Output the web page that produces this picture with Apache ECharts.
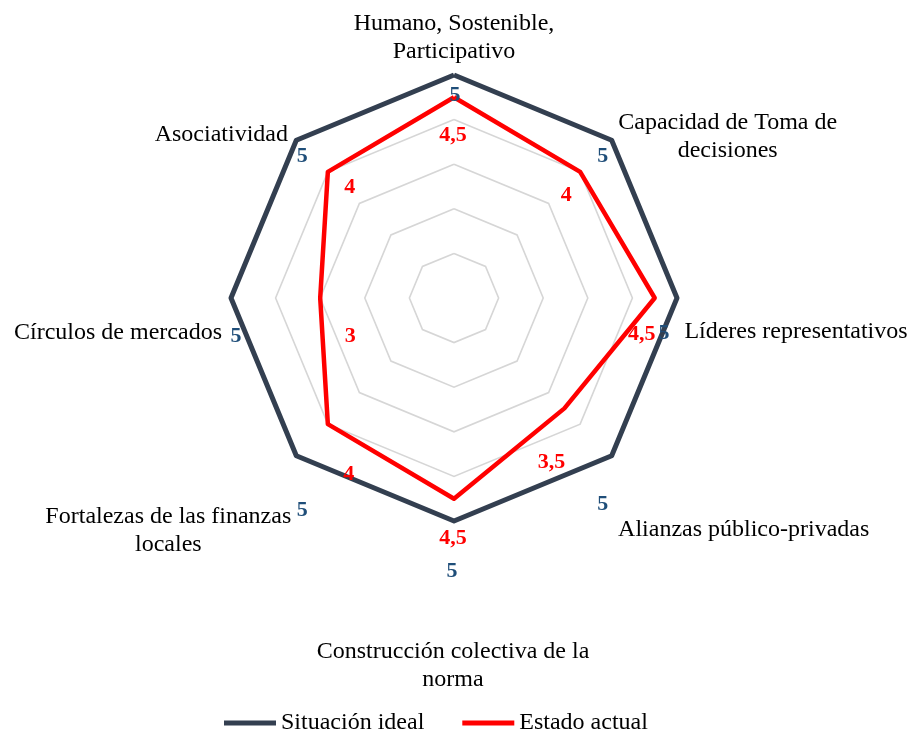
<!DOCTYPE html>
<html>
<head>
<meta charset="utf-8">
<script src="https://cdn.jsdelivr.net/npm/echarts@6/dist/echarts.min.js"></script>
<style>
  html, body { margin: 0; padding: 0; background: #ffffff; }
  #chart { width: 911px; height: 729px; }
</style>
</head>
<body>
<div id="chart"></div>
<script>
// ---- data (clockwise from the top) ----
const categories = [
  'Humano, Sostenible,\nParticipativo',
  'Capacidad de Toma de\ndecisiones',
  'Líderes representativos',
  'Alianzas público-privadas',
  'Construcción colectiva de la\nnorma',
  'Fortalezas de las finanzas\nlocales',
  'Círculos de mercados',
  'Asociatividad'
];
const idealValues  = [5, 5, 5, 5, 5, 5, 5, 5];
const actualValues = [4.5, 4, 4.5, 3.5, 4.5, 4, 3, 4];
const seriesNames  = ['Situación ideal', 'Estado actual'];
const axisMin = 0, axisMax = 5, axisSplits = 5;

// ---- styles ----
const FONT = "'Liberation Serif', 'Times New Roman', serif";
const idealColor = '#333F50';
const actualColor = '#FF0000';
const idealLabelColor = '#1F4E79';
const idealLabelOffset  = [[1,20],[-9,16],[-13,35],[-9,49],[-2,50],[6,55],[5,38],[6,16]];
const actualLabelOffset = [[-1,38],[-14,23],[-13,36],[-13,54],[-1,40],[21,50],[30,38],[22,15]];
const nameOffset        = [[0,-37],[116,-4],[119,34],[132,74],[-1,145],[-128,75],[-113,35],[-75,-6]];

// ECharts lays indicators counter-clockwise; reorder so the chart reads clockwise
const order = [0, 7, 6, 5, 4, 3, 2, 1];
const posOf = {}; order.forEach((k, j) => { posOf[k] = j; });
const reorder = arr => order.map(k => arr[k]);
const fmt = v => String(v).replace('.', ',');

const labelItems = [];
categories.forEach((name, k) => {
  const j = posOf[k];
  labelItems.push({
    value: reorder(idealValues),
    label: { show: true, position: 'inside', offset: idealLabelOffset[k], color: idealLabelColor,
             fontFamily: FONT, fontWeight: 'bold', fontSize: 22,
             formatter: p => p.dimensionIndex === j ? fmt(p.value) : '' }
  });
  labelItems.push({
    value: reorder(actualValues),
    label: { show: true, position: 'inside', offset: actualLabelOffset[k], color: actualColor,
             fontFamily: FONT, fontWeight: 'bold', fontSize: 22,
             formatter: p => p.dimensionIndex === j ? fmt(p.value) : '' }
  });
  labelItems.push({
    value: reorder(idealValues),
    label: { show: true, position: 'inside', offset: nameOffset[k], color: '#000000',
             fontFamily: FONT, fontSize: 24, lineHeight: 28, align: 'center',
             formatter: p => p.dimensionIndex === j ? name : '' }
  });
});

const chart = echarts.init(document.getElementById('chart'), null, { renderer: 'canvas' });
chart.setOption({
  animation: false,
  backgroundColor: '#ffffff',
  legend: {
    data: seriesNames,
    left: 219, top: 706,
    icon: 'rect', itemWidth: 52, itemHeight: 5, itemGap: 38,
    textStyle: { fontFamily: FONT, fontSize: 24, color: '#000000' }
  },
  radar: {
    center: [454, 298],
    radius: 223,
    startAngle: 90,
    shape: 'polygon',
    splitNumber: axisSplits,
    indicator: reorder(categories).map(n => ({ name: n, min: axisMin, max: axisMax })),
    axisName: { show: false },
    axisLine: { show: false },
    axisTick: { show: false },
    axisLabel: { show: false },
    splitArea: { show: false },
    splitLine: { lineStyle: { color: '#D6D6D6', width: 1.6 } }
  },
  series: [
    {
      name: seriesNames[0], type: 'radar', symbol: 'none', silent: true,
      itemStyle: { color: idealColor },
      lineStyle: { color: idealColor, width: 5 },
      data: [{ name: seriesNames[0], value: reorder(idealValues) }]
    },
    {
      name: seriesNames[1], type: 'radar', symbol: 'none', silent: true,
      itemStyle: { color: actualColor },
      lineStyle: { color: actualColor, width: 4.5 },
      data: [{ name: seriesNames[1], value: reorder(actualValues) }]
    },
    {
      name: 'labels', type: 'radar', silent: true, z: 5,
      symbol: 'circle', symbolSize: 2,
      itemStyle: { color: 'rgba(0,0,0,0)', borderWidth: 0 },
      lineStyle: { width: 0, opacity: 0 },
      data: labelItems
    }
  ]
});
</script>
</body>
</html>
